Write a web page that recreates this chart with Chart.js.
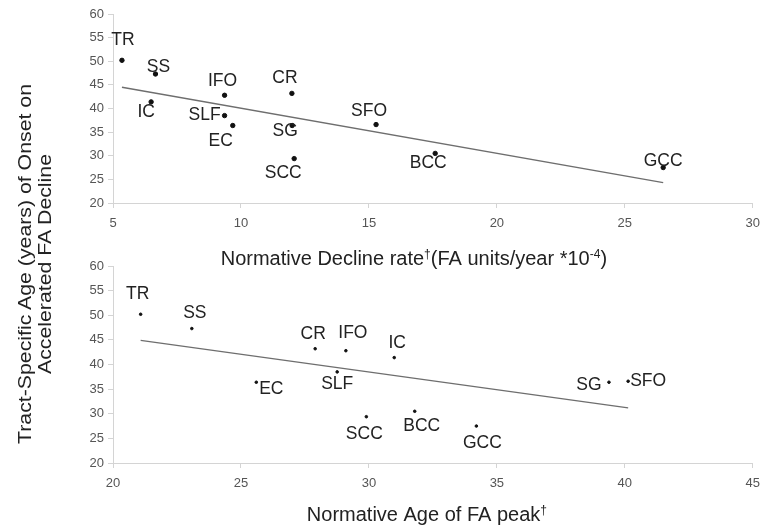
<!DOCTYPE html>
<html>
<head>
<meta charset="utf-8">
<script src="https://cdn.jsdelivr.net/npm/chart.js@4"></script>
<style>
    body { margin: 0; background: #fff; }
    #wrap { position: relative; width: 768px; height: 527px; overflow: hidden; }
    canvas { position: absolute; left: 0; }
    #declineChart { top: 0; }
    #peakChart { top: 252px; }
    #yTitle {
        position: absolute;
        left: -165px;
        top: 244px;
        width: 400px;
        height: 40px;
        line-height: 20px;
        text-align: center;
        font-family: "Liberation Sans", Arial, sans-serif;
        font-size: 19px;
        color: #222;
        transform: rotate(-90deg) scaleX(1.12);
        z-index: 2;
    }
</style>
</head>
<body>
<div id="wrap">
    <canvas id="declineChart" width="768" height="272"></canvas>
    <canvas id="peakChart" width="768" height="275"></canvas>
    <div id="yTitle">Tract-Specific Age (years) of Onset on<br>Accelerated FA Decline</div>
</div>
<script>
const tracts = ['TR', 'SS', 'IC', 'IFO', 'SLF', 'EC', 'CR', 'SG', 'SCC', 'SFO', 'BCC', 'GCC'];
const onsetAge = [50.2, 47.3, 41.4, 42.8, 38.5, 36.4, 43.2, 36.4, 29.4, 36.6, 30.5, 27.5];
const declineRate = [5.35, 6.66, 6.49, 9.36, 9.36, 9.68, 11.99, 12.0, 12.08, 15.28, 17.59, 26.5];
const peakAge = [21.08, 23.08, 30.99, 29.1, 28.76, 25.6, 27.9, 39.38, 29.9, 40.13, 31.79, 34.2];

// trend lines as drawn (end points)
const declineTrendX = [5.35, 26.5];
const declineTrendY = [44.5, 24.3];
const peakTrendX = [21.08, 40.13];
const peakTrendY = [44.9, 31.2];

const yTicks = [20, 25, 30, 35, 40, 45, 50, 55, 60];

// x titles, split so the dagger and exponent can be raised
const declineTitle = [['Normative Decline rate', false], ['\u2020', true], ['(FA units/year *10', false], ['-4', true], [')', false]];
const peakTitle = [['Normative Age of FA peak', false], ['\u2020', true]];

// label offsets from each point (px), same order as tracts
const declineLabelOffsets = [[1, -20], [3, -7], [-5, 10], [-2, -14], [-20, 0], [-12, 16], [-7, -15], [-7, 6], [-11, 15], [-7, -13], [-7, 10], [0, -6]];
const peakLabelOffsets = [[-3, -20], [3, -15], [3, -14], [7, -18], [0, 12], [15, 7], [-2, -15], [-20, 3], [-2, 17], [20, 0], [7, 15], [6, 17]];

const FONT = '"Liberation Sans", Arial, sans-serif';

const pointLabels = {
    id: 'pointLabels',
    afterDatasetsDraw(chart, args, opts) {
        const ctx = chart.ctx;
        const meta = chart.getDatasetMeta(0);
        ctx.save();
        ctx.font = '17.5px ' + FONT;
        ctx.fillStyle = '#222';
        ctx.textAlign = 'center';
        ctx.textBaseline = 'middle';
        meta.data.forEach((pt, i) => {
            const off = opts.offsets[i];
            ctx.fillText(tracts[i], pt.x + off[0], pt.y + off[1]);
        });
        ctx.restore();
    }
};

// x axis title with raised parts
const xTitle = {
    id: 'xTitle',
    afterDraw(chart, args, opts) {
        const ctx = chart.ctx;
        const size = 20, supSize = 12;
        ctx.save();
        ctx.fillStyle = '#222';
        ctx.textBaseline = 'alphabetic';
        ctx.textAlign = 'left';
        let total = 0;
        opts.parts.forEach(p => {
            ctx.font = (p[1] ? supSize : size) + 'px ' + FONT;
            total += ctx.measureText(p[0]).width;
        });
        const area = chart.chartArea;
        let x = (area.left + area.right) / 2 + opts.shift - total / 2;
        opts.parts.forEach(p => {
            ctx.font = (p[1] ? supSize : size) + 'px ' + FONT;
            ctx.fillText(p[0], x, opts.baseline - (p[1] ? 7 : 0));
            x += ctx.measureText(p[0]).width;
        });
        ctx.restore();
    }
};

function makeChart(id, xs, trendX, trendY, xMin, xMax, titleParts, titleShift, titleBase, offsets, radius, axisHeight) {
    const ctx = document.getElementById(id).getContext('2d');
    return new Chart(ctx, {
        type: 'scatter',
        data: {
            datasets: [{
                data: xs.map((x, i) => ({ x: x, y: onsetAge[i] })),
                backgroundColor: '#111',
                borderColor: '#111',
                pointRadius: radius,
                pointHoverRadius: radius
            }, {
                data: trendX.map((x, i) => ({ x: x, y: trendY[i] })),
                showLine: true,
                borderColor: '#6e6e6e',
                borderWidth: 1.3,
                pointRadius: 0
            }]
        },
        options: {
            responsive: false,
            animation: false,
            layout: { padding: { top: 14, right: 7, left: 0, bottom: 0 } },
            plugins: {
                legend: { display: false },
                tooltip: { enabled: false },
                pointLabels: { offsets: offsets },
                xTitle: { parts: titleParts, shift: titleShift, baseline: titleBase }
            },
            scales: {
                x: {
                    min: xMin,
                    max: xMax,
                    ticks: { stepSize: 5, padding: 8, color: '#555', font: { family: FONT, size: 13 } },
                    grid: { drawOnChartArea: false, tickLength: 5, color: '#d4d4d4' },
                    border: { color: '#d4d4d4' },
                    afterFit: s => { s.height = axisHeight; }
                },
                y: {
                    min: 20,
                    max: 60,
                    afterBuildTicks: s => { s.ticks = yTicks.map(v => ({ value: v })); },
                    ticks: { padding: 4, color: '#555', font: { family: FONT, size: 13 } },
                    grid: { drawOnChartArea: false, tickLength: 5, color: '#d4d4d4' },
                    border: { color: '#d4d4d4' },
                    afterFit: s => { s.width = 113; }
                }
            }
        },
        plugins: [pointLabels, xTitle]
    });
}

document.addEventListener('DOMContentLoaded', () => {
    makeChart('declineChart', declineRate, declineTrendX, declineTrendY, 5, 30,
        declineTitle, -19, 265, declineLabelOffsets, 2.2, 69);
    makeChart('peakChart', peakAge, peakTrendX, peakTrendY, 20, 45,
        peakTitle, -6, 269, peakLabelOffsets, 1.3, 64);
});
</script>
</body>
</html>
